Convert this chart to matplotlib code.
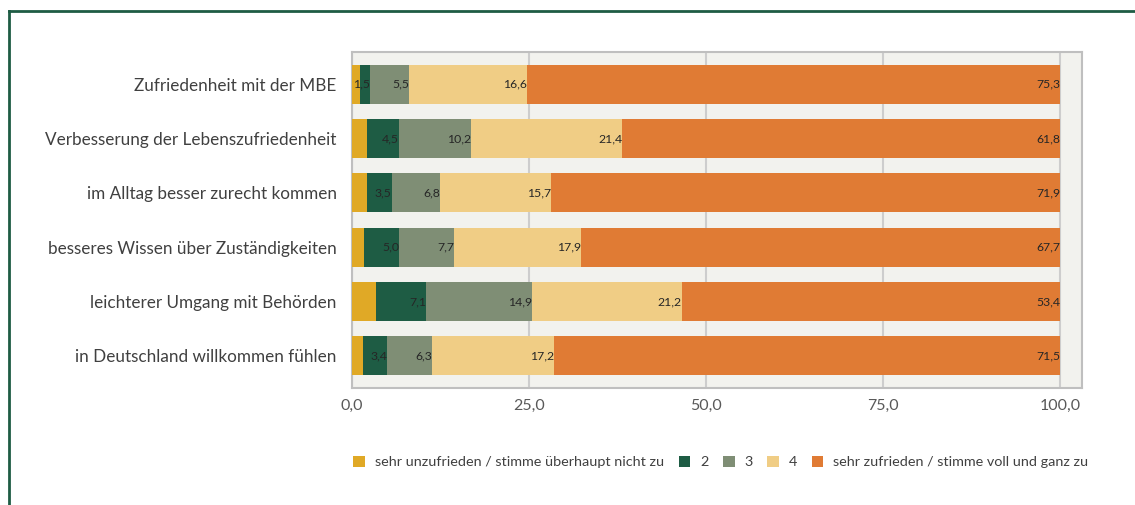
import matplotlib
matplotlib.use("Agg")
import matplotlib.pyplot as plt
from matplotlib.patches import Patch
from matplotlib.lines import Line2D

categories = [
    "Zufriedenheit mit der MBE",
    "Verbesserung der Lebenszufriedenheit",
    "im Alltag besser zurecht kommen",
    "besseres Wissen über Zuständigkeiten",
    "leichterer Umgang mit Behörden",
    "in Deutschland willkommen fühlen",
]
series_names = [
    "sehr unzufrieden / stimme überhaupt nicht zu",
    "2",
    "3",
    "4",
    "sehr zufrieden / stimme voll und ganz zu",
]
s1 = [1.1, 2.1, 2.1, 1.7, 3.4, 1.6]
s2 = [1.5, 4.5, 3.5, 5.0, 7.1, 3.4]
s3 = [5.5, 10.2, 6.8, 7.7, 14.9, 6.3]
s4 = [16.6, 21.4, 15.7, 17.9, 21.2, 17.2]
s5 = [75.3, 61.8, 71.9, 67.7, 53.4, 71.5]
series = [s1, s2, s3, s4, s5]
show_label = [False, True, True, True, True]
colors = ["#E0A926", "#1E5C44", "#7F8E75", "#F0CD85", "#E07B34"]
xticks = [0, 25, 50, 75, 100]

plt.rcParams['font.family'] = ['Lato', 'DejaVu Sans']

fig = plt.figure(figsize=(11.35, 5.05), dpi=100)
ax = fig.add_axes([352/1135, 117/505, 730/1135, 336/505])
ax.set_facecolor("#F2F2EE")

y = list(range(len(categories)))
left = [0.0] * len(categories)
for vals, col, lab in zip(series, colors, show_label):
    ax.barh(y, vals, left=left, height=0.72, color=col, zorder=3)
    ends = [l + v for l, v in zip(left, vals)]
    if lab:
        for yi, e, v in zip(y, ends, vals):
            ax.text(e, yi, f"{v:.1f}".replace(".", ","), ha="right", va="center",
                    fontsize=8.8, color="#262626", zorder=4)
    left = ends

ax.set_xlim(0, 103.1)
ax.set_ylim(len(categories) - 0.41, -0.59)
ax.set_xticks(xticks)
ax.set_xticklabels([f"{t:.1f}".replace(".", ",") for t in xticks], fontsize=11.5, color="#595959")
ax.set_yticks(y)
ax.set_yticklabels(categories, fontsize=12.3, color="#404040")
ax.tick_params(axis="both", length=0)
ax.tick_params(axis="y", pad=11)
ax.tick_params(axis="x", pad=8)
ax.xaxis.grid(True, color="#CDCDCD", linewidth=1.5, zorder=0)
for sp in ax.spines.values():
    sp.set_color("#BFBFBF")
    sp.set_linewidth(1.5)

handles = [Patch(facecolor=c, edgecolor="none") for c in colors]
fig.legend(handles, series_names, loc="center", bbox_to_anchor=(721/1135, 1 - 462/505),
           ncol=5, frameon=False, fontsize=10.4, handlelength=0.8, handleheight=0.8,
           handletextpad=0.7, columnspacing=1.0, labelcolor="#404040")

# outer frame lines
fig.add_artist(Line2D([9/1135, 9/1135], [0, 1 - 11/505], color="#1E5C44", linewidth=2, transform=fig.transFigure))
fig.add_artist(Line2D([9/1135, 1], [1 - 11/505, 1 - 11/505], color="#1E5C44", linewidth=2, transform=fig.transFigure))

fig.savefig("out.png", dpi=100)
